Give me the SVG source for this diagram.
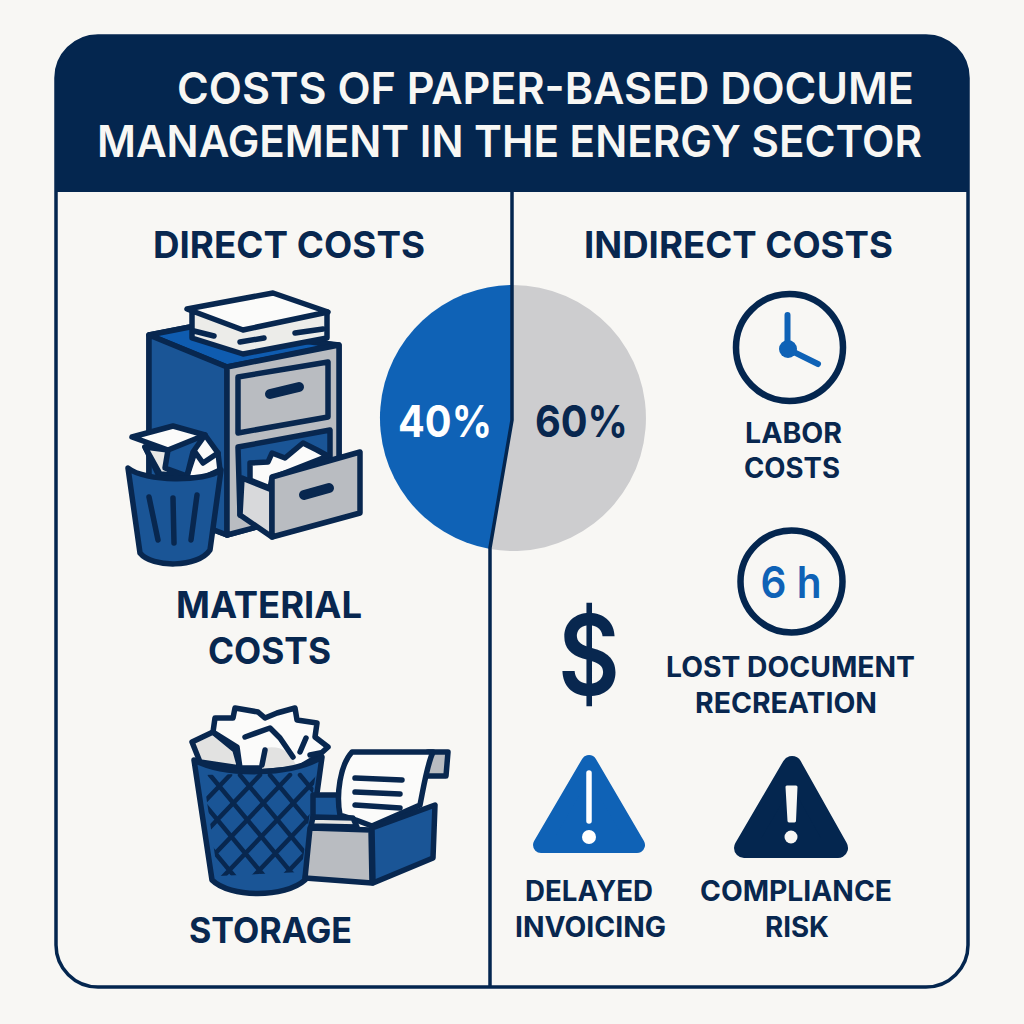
<svg xmlns="http://www.w3.org/2000/svg" width="1024" height="1024" viewBox="0 0 1024 1024">
<style>
text{font-family:"Inter","Liberation Sans",sans-serif;font-weight:700;fill:#08274f;text-anchor:middle}
.h{font-size:44px;fill:#f8f7f4;font-weight:600}
.s{font-size:37px}
.l{font-size:28px}
.k{stroke:#08274f;stroke-width:5.5;stroke-linejoin:round;stroke-linecap:round}
.b{fill:#1a5596}
.g{fill:#b9bcc1}
.w{fill:#fbfbfa}
.n{fill:none}
</style>
<defs>
<clipPath id="lattice"><path d="M203 775L316 772L301 872L218 876Z"/></clipPath>
</defs>
<rect width="1024" height="1024" fill="#f8f7f4"/>
<g id="frame">
<rect x="56" y="36" width="912" height="951" rx="42" fill="#f8f7f4" stroke="#04264f" stroke-width="3.5"/>
<path d="M56 192V78a42 42 0 0 1 42-42H926a42 42 0 0 1 42 42V192Z" fill="#04264f"/>
</g>
<g id="title">
<text class="h" x="545.500" y="104" textLength="737" lengthAdjust="spacingAndGlyphs">COSTS OF PAPER-BASED DOCUME</text>
<text class="h" x="509.500" y="157" textLength="825" lengthAdjust="spacingAndGlyphs">MANAGEMENT IN THE ENERGY SECTOR</text>
</g>
<g id="pie">
<path d="M512 285A133 133 0 0 0 490 549L512 420Z" fill="#0f62b6"/>
<path d="M512 285A133 133 0 1 1 490 549L512 420Z" fill="#cdcdcf"/>
<text x="445" y="437" font-size="44" textLength="94" lengthAdjust="spacingAndGlyphs" style="fill:#fff">40%</text>
<text x="581.500" y="437" font-size="44" textLength="93" lengthAdjust="spacingAndGlyphs">60%</text>
</g>
<g id="connectors">
<path d="M512 192V420L490 548V986" fill="none" stroke="#04264f" stroke-width="3.5"/>
</g>
<g id="direct-costs"><text class="s" x="289" y="258" textLength="272" lengthAdjust="spacingAndGlyphs">DIRECT COSTS</text></g>
<g id="indirect-costs"><text class="s" x="738.500" y="258" textLength="309" lengthAdjust="spacingAndGlyphs">INDIRECT COSTS</text></g>
<g id="cabinet">
<path class="k b" d="M149 335L190 327L339 345V505L227 535L149 505Z"/>
<path class="k" fill="#0f5cb0" d="M149 335L190 327L335 345L227 367Z"/>
<path class="k b" d="M149 335L227 367V535L149 505Z"/>
<path class="k g" d="M227 367L339 345V505L227 535Z"/>
<path class="k g" d="M238 377L328 362V417L238 433Z"/>
<path class="k n" d="M270 394L299 387" style="stroke-width:10"/>
<path class="k b" d="M238 447L330 430V470L240 515Z"/>
<path class="k w" d="M250 463L268 462L272 453L285 458L303 443L317 450L328 456L272 478L270 488L250 480Z"/>
<path class="k" fill="#d8d9db" d="M242 478L272 490V537L240 515Z"/>
<path class="k g" d="M272 477L360 452V513L272 537Z"/>
<path class="k n" d="M304 495L329 488" style="stroke-width:10"/>
<path class="k" fill="#ecece9" d="M192 312V338L243 354L327 338V312Z"/>
<path class="k n" d="M194 331L214 336M240 342L264 338M295 333L323 329"/>
<path class="k w" d="M187 309L273 293L328 312L243 330Z"/>
</g>
<g id="bin-small">
<path class="k w" d="M145 447L160 472L187 476L193 452L205 435L218 453L220 470L203 478H160Z"/>
<path class="k" fill="#e8e8e6" d="M145 447L168 450L165 468L187 476L160 474Z"/>
<path class="k w" d="M132 437L173 426L205 435L168 450Z"/>
<path class="k n" d="M187 476L195 452L203 463L218 453"/>
<path class="k b" d="M128 468C145 482 205 482 221 470L210 550C198 568 152 568 140 553Z"/>
<path class="k n" d="M149 497L158 540M173 498L174 543M197 495L191 540"/>
</g>
<g id="material-costs">
<text class="s" x="269" y="618" textLength="186" lengthAdjust="spacingAndGlyphs">MATERIAL</text>
<text class="s" x="269.500" y="664" textLength="123" lengthAdjust="spacingAndGlyphs">COSTS</text>
</g>
<g id="bin-large">
<path class="k" fill="#e2e2e1" d="M192 742L213 732L235 750L240 768L200 762Z"/>
<path class="k w" d="M213 732L215 718L233 718L235 708L258 712L265 718L277 713L295 708L297 720L317 723L315 737L328 747L318 756L298 768H240L237 747Z"/>
<path fill="#e2e2e1" d="M265 748C280 745 292 752 296 766L262 769Z"/>
<path class="k n" d="M245 737L270 728L280 738L293 757M265 750L262 765M300 752L306 738M310 755L320 753"/>
<path class="k b" d="M194 760C225 776 290 776 322 757L305 880C285 898 230 898 212 880Z"/>
<g clip-path="url(#lattice)">
<path class="k n" style="stroke-width:4.500" d="M120 775l100 120M150 775l100 120M180 775l100 120M210 775l100 120M240 775l100 120M270 775l100 120M300 775l100 120M230 775l-100 105M260 775l-100 105M290 775l-100 105M320 775l-100 105M350 775l-100 105M380 775l-100 105M410 775l-100 105"/>
</g>
</g>
<g id="tray">
<path class="k b" d="M313 795H342V830H313Z"/>
<path class="k g" d="M428 752H448L446 776H425Z"/>
<path class="k w" d="M340 815C336 795 340 765 352 752H433C427 765 424 785 420 805L372 826L356 820Z"/>
<path class="k n" d="M355 778L402 780M355 792L400 794M355 805L400 808"/>
<path class="k" fill="#e6e6e4" d="M313 817L353 818L357 827L311 826Z"/>
<path class="k g" d="M310 828L371 830L372 883L305 878Z"/>
<path class="k b" d="M372 828L435 805L433 858L373 883Z"/>
</g>
<g id="storage"><text class="s" x="270.500" y="943" textLength="163" lengthAdjust="spacingAndGlyphs" style="font-size:35px">STORAGE</text></g>
<g id="clock">
<circle cx="789.500" cy="347.500" r="53.500" fill="none" stroke="#04264f" stroke-width="6.500"/>
<path d="M787.500 315V349L818 364" fill="none" stroke="#0f62b6" stroke-width="6" stroke-linecap="round"/>
<circle cx="788" cy="349" r="9" fill="#0f62b6"/>
</g>
<g id="labor"><text class="l" x="793.500" y="443" textLength="97" lengthAdjust="spacingAndGlyphs">LABOR</text><text class="l" x="792" y="478" textLength="96" lengthAdjust="spacingAndGlyphs">COSTS</text></g>
<g id="six-h">
<circle cx="791.500" cy="581.500" r="51" fill="none" stroke="#04264f" stroke-width="6.500"/>
<text x="791" y="598" font-size="44" textLength="61" lengthAdjust="spacingAndGlyphs" style="fill:#0f62b6;font-weight:600">6 h</text>
</g>
<g id="dollar"><text transform="translate(589 695) scale(0.85 1)" font-size="112" style="font-weight:600">$</text></g>
<g id="lost"><text class="l" x="790.500" y="677" textLength="249" lengthAdjust="spacingAndGlyphs">LOST DOCUMENT</text><text class="l" x="786" y="713" textLength="182" lengthAdjust="spacingAndGlyphs">RECREATION</text></g>
<g id="warn-blue">
<path d="M589 763L637 845H541Z" fill="#0f62b6" stroke="#0f62b6" stroke-width="16" stroke-linejoin="round"/>
<path d="M589 773V821" stroke="#fff" stroke-width="5.500" stroke-linecap="round"/>
<circle cx="589" cy="837" r="7" fill="#fff"/>
</g>
<g id="warn-dark">
<path d="M792 766L838 848H744Z" fill="#04264f" stroke="#04264f" stroke-width="20" stroke-linejoin="round"/>
<path d="M787 787H796L794.500 821H789Z" fill="#f8f7f4" stroke="#f8f7f4" stroke-width="3" stroke-linejoin="round"/>
<circle cx="791" cy="837" r="6.500" fill="#f8f7f4"/>
</g>
<g id="delayed"><text class="l" x="589" y="901" textLength="128" lengthAdjust="spacingAndGlyphs">DELAYED</text><text class="l" x="590.500" y="937" textLength="151" lengthAdjust="spacingAndGlyphs">INVOICING</text></g>
<g id="compliance"><text class="l" x="796" y="901" textLength="192" lengthAdjust="spacingAndGlyphs">COMPLIANCE</text><text class="l" x="797" y="937" textLength="64" lengthAdjust="spacingAndGlyphs">RISK</text></g>
</svg>
